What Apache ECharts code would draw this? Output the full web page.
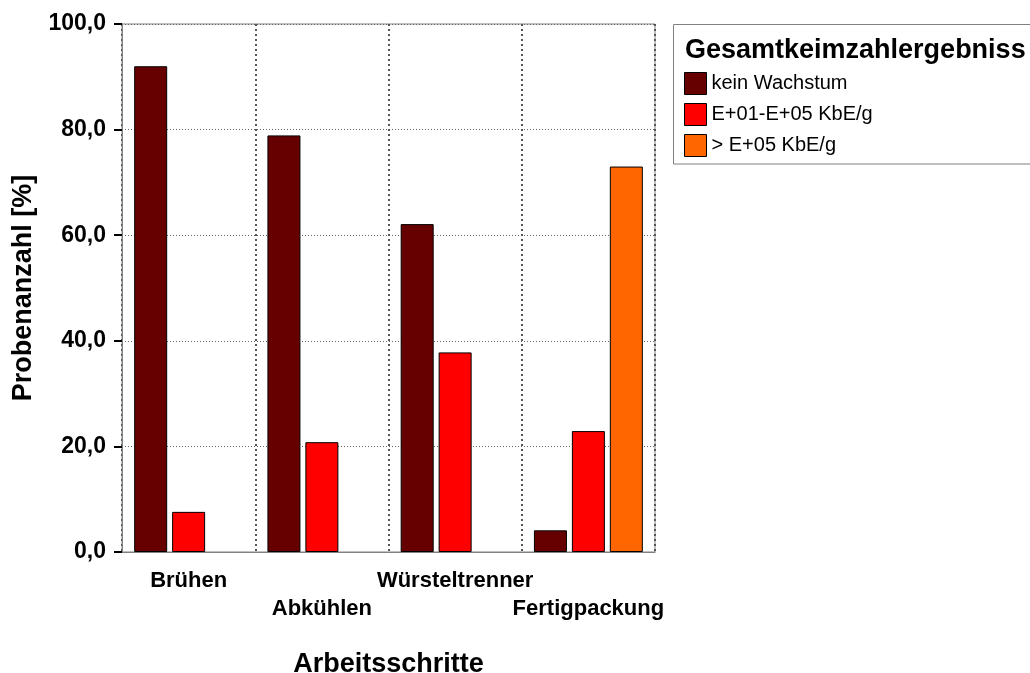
<!DOCTYPE html>
<html>
<head>
<meta charset="utf-8">
<script src="https://cdn.jsdelivr.net/npm/echarts@6/dist/echarts.min.js"></script>
<style>html,body{margin:0;padding:0;background:#fff;}#c{width:1030px;height:673px;}</style>
</head>
<body>
<div id="c"></div>
<script>
const categories = ['Brühen', 'Abkühlen', 'Würsteltrenner', 'Fertigpackung'];
const seriesNames = ['kein Wachstum', 'E+01-E+05 KbE/g', '> E+05 KbE/g'];
const keinWachstum = [92.0, 78.9, 62.1, 4.1];
const mittel = [7.6, 20.8, 37.8, 22.9];
const hoch = [null, null, null, 73.0];
const yTicks = [0, 20, 40, 60, 80, 100];
const legendTitle = 'Gesamtkeimzahlergebniss';
const xName = 'Arbeitsschritte';
const yName = 'Probenanzahl [%]';

const colors = ['#660000', '#ff0000', '#ff6600'];
const FONT = '"Liberation Sans", Arial, sans-serif';
const chart = echarts.init(document.getElementById('c'), null, {renderer: 'canvas'});

const barStyle = (c) => ({color: c, borderColor: '#000', borderWidth: 1});

chart.setOption({
  animation: false,
  backgroundColor: '#fff',
  grid: {left: 122, top: 24, right: 375, bottom: 121, containLabel: false, outerBoundsMode: 'none',
    show: true, borderColor: '#808080', borderWidth: 1, backgroundColor: 'transparent'},
  legend: {
    orient: 'vertical', left: 684, top: 72, padding: 0,
    itemWidth: 22, itemHeight: 22, itemGap: 8, icon: 'rect',
    itemStyle: {borderColor: '#000', borderWidth: 1},
    textStyle: {fontFamily: FONT, fontSize: 20, color: '#000'},
    data: seriesNames
  },
  graphic: [
    {type: 'rect', shape: {x: 673.5, y: 24.5, width: 400, height: 139.5}, style: {fill: 'none', stroke: '#808080', lineWidth: 1}, z: 0},
    {type: 'text', x: 685, y: 37, style: {text: legendTitle, fontFamily: FONT, fontWeight: 'bold', fontSize: 27, fill: '#000', textVerticalAlign: 'top'}}
  ],
  xAxis: {
    type: 'category', data: categories,
    name: xName, nameLocation: 'middle', nameGap: 99,
    nameTextStyle: {fontFamily: FONT, fontWeight: 'bold', fontSize: 27, color: '#000'},
    axisLine: {lineStyle: {color: '#808080', width: 1}},
    axisTick: {alignWithLabel: true, length: 7, lineStyle: {color: '#000', width: 2}},
    axisLabel: {
      interval: 0, margin: 15, fontFamily: FONT, fontWeight: 'bold', fontSize: 22, color: '#000', lineHeight: 28,
      formatter: (v, i) => (i % 2 ? '\n' + v : v)
    },
    splitLine: {show: true, lineStyle: {type: [2, 3], width: 2, color: '#555'}}
  },
  yAxis: {
    type: 'value', min: yTicks[0], max: yTicks[yTicks.length - 1], interval: 20,
    name: yName, nameLocation: 'middle', nameGap: 82, nameRotate: 90,
    nameTextStyle: {fontFamily: FONT, fontWeight: 'bold', fontSize: 27, color: '#000'},
    axisLine: {show: true, lineStyle: {color: '#808080', width: 1}},
    axisTick: {show: true, length: 8, lineStyle: {color: '#000', width: 2}},
    axisLabel: {margin: 16, fontFamily: FONT, fontWeight: 'bold', fontSize: 23, color: '#000',
      formatter: (v) => v.toFixed(1).replace('.', ',')},
    splitLine: {show: true, lineStyle: {type: [1, 2], width: 1, color: '#666'}}
  },
  series: [
    {name: seriesNames[0], type: 'bar', data: keinWachstum, barWidth: 33, barGap: '15%', itemStyle: barStyle(colors[0])},
    {name: seriesNames[1], type: 'bar', data: mittel, barWidth: 33, barGap: '15%', itemStyle: barStyle(colors[1])},
    {name: seriesNames[2], type: 'bar', data: hoch, barWidth: 33, barGap: '15%', itemStyle: barStyle(colors[2])}
  ]
});
</script>
</body>
</html>
